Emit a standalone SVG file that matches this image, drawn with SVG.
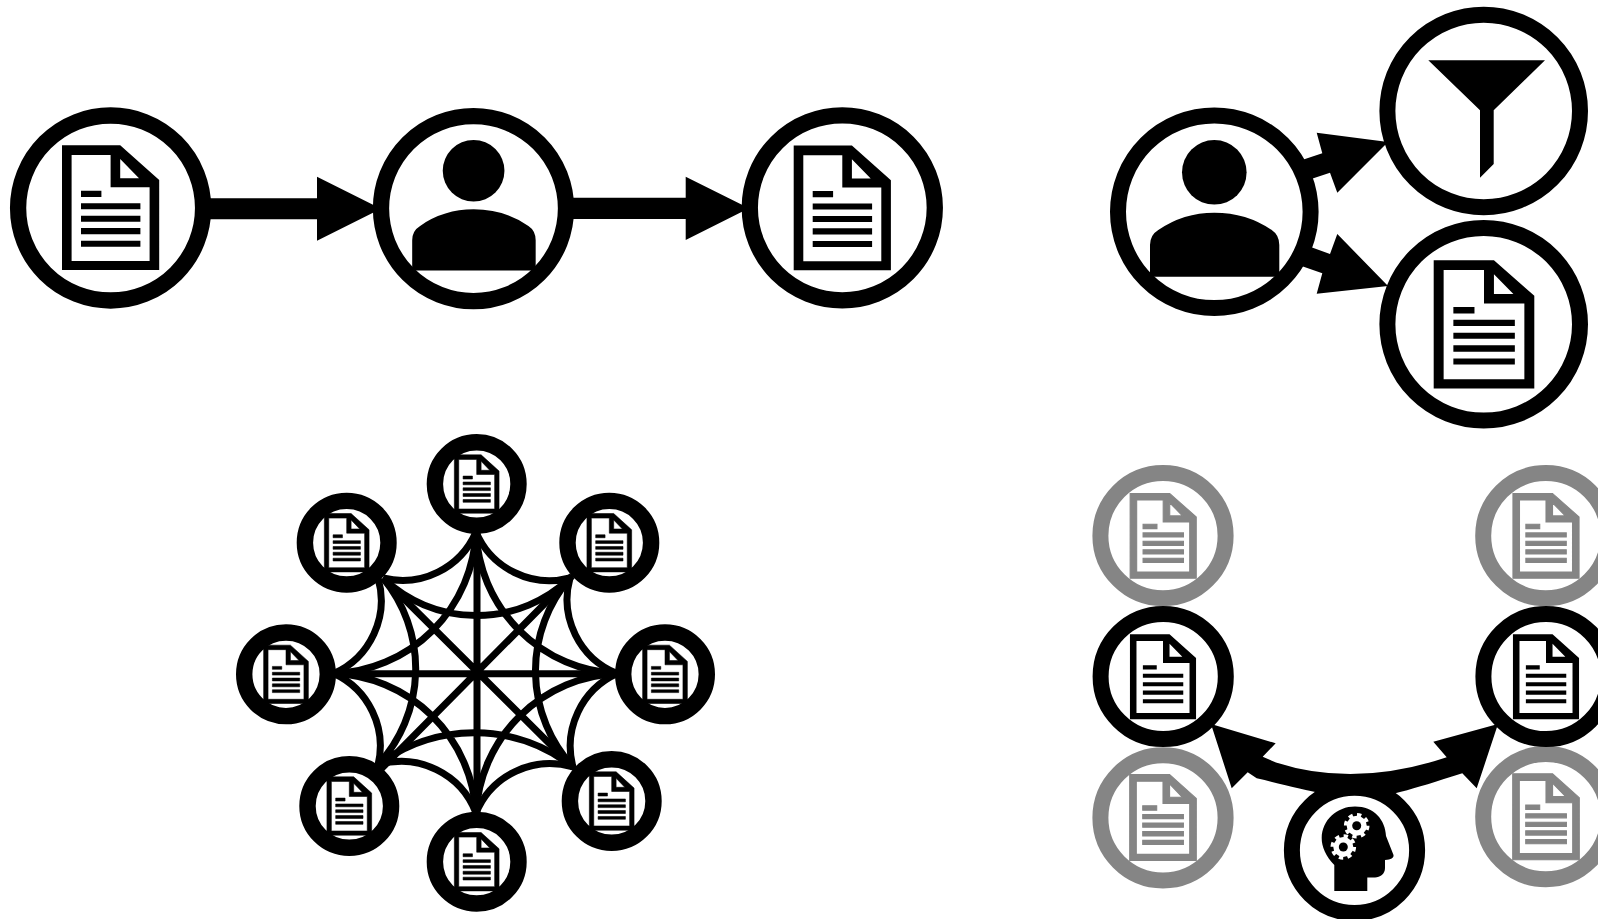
<svg xmlns="http://www.w3.org/2000/svg" width="1598" height="919" viewBox="0 0 1598 919">
<style>
.ring{fill:#fff;stroke:#000}
.big{stroke-width:16.3}
.mid{stroke-width:16}
.sm{stroke-width:16.4}
.grey .ring{stroke:#858585}
.grey .ic{fill:#858585;stroke:#858585;stroke-width:1.6}
.ic{fill:#000}
.small .ic{stroke:#000;stroke-width:1.2}
.web{fill:none;stroke:#000;stroke-width:7}
.ar{fill:#000}
</style>
<defs>
<path id="doc" fill-rule="evenodd" d="M-48.6,-62.3H9.6L48.6,-27.6V62.4H-48.6ZM-39,-52.6H0V-20.3H39V53.4H-39ZM9.6,-48.6V-29.3H28.4ZM-29.6,-16.9H-9.2V-10.6H-29.6ZM-29.6,-4.3H29.8V1.7H-29.6ZM-29.6,8.1H29.8V14.1H-29.6ZM-29.6,20.4H29.8V26.7H-29.6ZM-29.6,33.1H29.8V39.1H-29.6Z"/>
<g id="person"><circle cx="0" cy="-39.5" r="32.3"/><path d="M-64.3,64.9V33.2Q-64.3,23.2 -56,18.2Q-31,0.9 0,0.9Q32.4,0.9 57.4,18.2Q65,23.2 65,33.2V64.9Z"/></g>
</defs>
<rect width="1598" height="919" fill="#fff"/>
<g id="connectors">
<polygon class="ar" points="200,198.3 317,198.3 317,176.7 381,208.7 317,240.7 317,219.3 200,219.3"/>
<polygon class="ar" points="565,197.7 685.7,197.7 685.7,176.7 749,208.3 685.7,240 685.7,219 565,219"/>
<polygon class="ar" points="1290,164 1322.3,153.3 1316.7,132.7 1388,142 1337.3,192.7 1330,172.7 1290,186"/>
<polygon class="ar" points="1290,239.4 1330,254 1337.3,234 1388,286 1316.7,293.7 1322.3,273.3 1290,262"/>
<path class="ar" d="M1211,724L1275.7,743.3 1262.7,756.7 1276,762.5Q1355,788 1446.7,757.3L1433.3,741.7 1498,724 1476.7,788.3 1462.3,773.3C1360,806 1365,804 1256.7,778.3L1247.7,772.3 1231.7,788.3Z"/>
<g id="web">
<path class="web" d="M477,532V813M334,673.7H617M383,578L573,767M572,576L380,770"/>
<path class="web" d="M383,578A80,80 0 0 0 476,532A80,80 0 0 0 570,578A80,80 0 0 0 617,673.5A80,80 0 0 0 573,767A80,80 0 0 0 476,813A80,80 0 0 0 378,765A80,80 0 0 0 334,673.5A80,80 0 0 0 378,578"/>
<path class="web" d="M383,578A135,135 0 0 0 570,578M573,767A160,160 0 0 0 378,765M378,765A142,142 0 0 0 383,578M570,578A142,142 0 0 0 573,767M334,673.5A148,148 0 0 0 476,532M476,532A148,148 0 0 0 617,673.5M617,673.5A148,148 0 0 0 476,813M476,813A148,148 0 0 0 334,673.5"/>
</g>
</g>
<g id="a-doc1"><circle class="ring big" cx="110.6" cy="208" r="92.5"/><use href="#doc" class="ic" transform="translate(110.6,207.6)"/></g>
<g id="a-person"><circle class="ring big" cx="473.5" cy="208.6" r="92.5"/><use href="#person" transform="translate(473.6,208.5) scale(.955)"/></g>
<g id="a-doc2"><circle class="ring big" cx="842.3" cy="207.8" r="92.5"/><use href="#doc" class="ic" transform="translate(842.3,207.8)"/></g>
<g id="b-person"><circle class="ring mid" cx="1214.3" cy="211.8" r="96.3"/><use href="#person" transform="translate(1214.3,211.8)"/></g>
<g id="b-filter"><circle class="ring mid" cx="1483.7" cy="111" r="96.3"/><path class="ic" d="M1428.3,60.3H1545L1493.7,110.3V164L1480,177.7V110.3Z"/></g>
<g id="b-doc"><circle class="ring mid" cx="1483.7" cy="324.3" r="96.3"/><use href="#doc" class="ic" transform="translate(1484,324.3) scale(1.035,1.03)"/></g>
<g id="c1" class="small"><circle class="ring sm" cx="476.7" cy="484" r="41.8"/><use href="#doc" class="ic" transform="translate(476.7,484) scale(.46,.468)"/></g>
<g id="c2" class="small"><circle class="ring sm" cx="609.3" cy="542.7" r="41.8"/><use href="#doc" class="ic" transform="translate(609.3,542.7) scale(.46,.468)"/></g>
<g id="c3" class="small"><circle class="ring sm" cx="665" cy="674.3" r="41.8"/><use href="#doc" class="ic" transform="translate(665,674.3) scale(.46,.468)"/></g>
<g id="c4" class="small"><circle class="ring sm" cx="611.7" cy="801" r="41.8"/><use href="#doc" class="ic" transform="translate(611.7,801) scale(.46,.468)"/></g>
<g id="c5" class="small"><circle class="ring sm" cx="476.7" cy="861.7" r="41.8"/><use href="#doc" class="ic" transform="translate(476.7,861.7) scale(.46,.468)"/></g>
<g id="c6" class="small"><circle class="ring sm" cx="349.3" cy="806" r="41.8"/><use href="#doc" class="ic" transform="translate(349.3,806) scale(.46,.468)"/></g>
<g id="c7" class="small"><circle class="ring sm" cx="286" cy="674.3" r="41.8"/><use href="#doc" class="ic" transform="translate(286,674.3) scale(.46,.468)"/></g>
<g id="c8" class="small"><circle class="ring sm" cx="346.7" cy="542.7" r="41.8"/><use href="#doc" class="ic" transform="translate(346.7,542.7) scale(.46,.468)"/></g>
<g id="d-grey1" class="grey"><circle class="ring mid" cx="1163" cy="535.7" r="62.6"/><use href="#doc" class="ic" transform="translate(1163.2,535.8) scale(.68)"/></g>
<g id="d-grey2" class="grey"><circle class="ring mid" cx="1163" cy="817.8" r="62.6"/><use href="#doc" class="ic" transform="translate(1163,817.5) scale(.685,.69)"/></g>
<g id="d-grey3" class="grey"><circle class="ring mid" cx="1545.8" cy="535.7" r="62.6"/><use href="#doc" class="ic" transform="translate(1546,535.8) scale(.68)"/></g>
<g id="d-grey4" class="grey"><circle class="ring mid" cx="1545.8" cy="816.7" r="62.6"/><use href="#doc" class="ic" transform="translate(1546,816.7) scale(.685,.69)"/></g>
<g id="d-doc1"><circle class="ring mid" cx="1163.2" cy="676.5" r="62.6"/><use href="#doc" class="ic" transform="translate(1163,676.7) scale(.68)"/></g>
<g id="d-doc2"><circle class="ring mid" cx="1546" cy="676.5" r="62.6"/><use href="#doc" class="ic" transform="translate(1546,676.7) scale(.68)"/></g>
<g id="d-head"><circle class="ring mid" cx="1354.5" cy="850.3" r="62.6"/>
<path class="ic" d="M1334.3,891V865C1326,857 1321.5,846 1321.7,838C1322,820 1337,806.5 1355,806.5C1374,806.5 1385.5,820 1386,836L1393.5,855C1394,858 1391,859.5 1385,860V868C1385,874 1380,877.5 1375,877.5H1367.3V891Z"/>
<g fill="#fff"><circle cx="1356.7" cy="825.7" r="10"/><circle cx="1343.3" cy="847" r="10"/></g>
<g fill="none" stroke="#fff" stroke-width="3.6" stroke-dasharray="4.3 4.34"><circle cx="1356.7" cy="825.7" r="11"/><circle cx="1343.3" cy="847" r="11"/></g>
<g fill="#000"><circle cx="1356.7" cy="825.7" r="4.5"/><circle cx="1343.3" cy="847" r="4.5"/></g>
</g>
</svg>
